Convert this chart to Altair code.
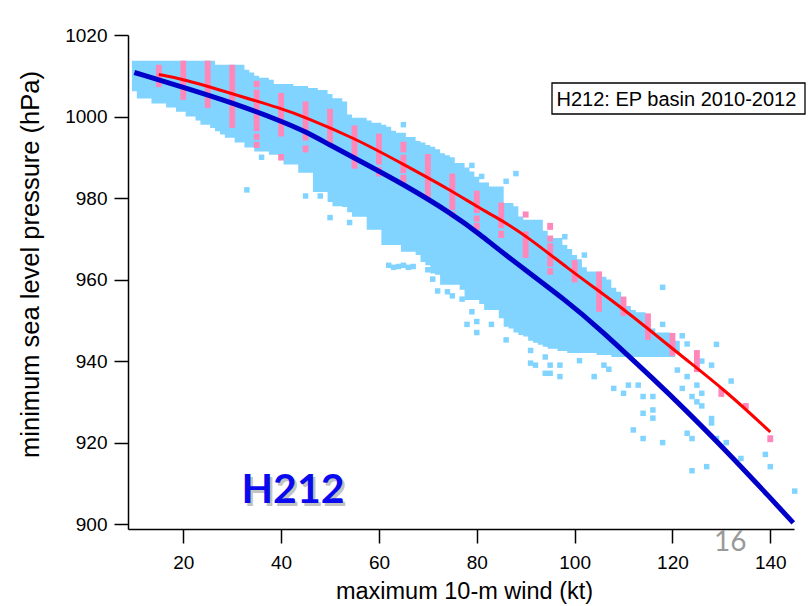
import altair as alt
import pandas as pd

# ---- model (H212) scatter: dense cloud per integer wind (top / bottom pressure) ----
band_wind = list(range(10, 123))
band_top = [
    1013.7, 1013.7, 1013.7, 1013.7, 1013.7, 1013.7, 1013.7, 1013.7, 1013.7, 1013.7,  # 10-19
    1013.7, 1013.7, 1013.7, 1013.7, 1013.7, 1013.7, 1013.7, 1012.7, 1012.7, 1012.7,  # 20-29
    1012.7, 1012.7, 1012.7, 1011.5, 1010.8, 1010.0, 1009.5, 1009.5, 1009.0, 1008.0,  # 30-39
    1008.0, 1008.0, 1008.0, 1007.5, 1007.5, 1007.5, 1007.0, 1007.0, 1006.5, 1006.5,  # 40-49
    1005.5, 1004.5, 1004.5, 1003.7, 1000.5, 999.7, 999.7, 999.7, 999.0, 998.5,       # 50-59
    998.5, 998.0, 997.5, 996.5, 996.0, 996.0, 995.0, 995.0, 994.0, 993.6,            # 60-69
    993.0, 992.6, 992.0, 991.0, 990.5, 990.0, 988.6, 988.6, 987.5, 986.5,            # 70-79
    985.2, 983.8, 983.8, 982.8, 982.8, 982.8, 978.8, 978.8, 978.0, 975.5,            # 80-89
    974.7, 974.7, 974.7, 974.7, 972.0, 970.2, 970.2, 970.2, 968.5, 967.5,            # 90-99
    966.0, 965.0, 963.0, 962.0, 962.0, 961.0, 960.7, 960.0, 958.0, 957.0,            # 100-109
    955.8, 953.5, 952.5, 952.0, 952.0, 950.0, 948.0, 947.0, 947.0, 947.0,            # 110-119
    946.0, 945.0, 944.5,                                                             # 120-122
]
band_bottom = [
    1006.2, 1004.4, 1004.4, 1004.4, 1003.2, 1003.2, 1003.2, 1002.2, 1002.2, 1001.2,  # 10-19
    1001.2, 1000.0, 1000.0, 999.0, 998.0, 998.0, 997.2, 996.4, 995.6, 994.8,         # 20-29
    994.8, 993.6, 993.6, 992.4, 992.4, 991.4, 991.4, 991.4, 990.6, 990.6,            # 30-39
    989.8, 988.2, 988.2, 988.2, 986.2, 986.2, 986.2, 981.5, 981.5, 981.5,            # 40-49
    979.0, 978.0, 978.0, 977.8, 976.5, 975.4, 975.4, 975.4, 972.2, 972.2,            # 50-59
    972.2, 968.5, 968.5, 968.5, 968.5, 966.8, 966.8, 966.8, 966.0, 964.3,            # 60-69
    963.5, 961.5, 961.2, 958.7, 958.7, 958.7, 958.7, 957.5, 955.0, 955.0,            # 70-79
    955.0, 954.0, 952.5, 952.5, 952.5, 950.5, 948.4, 948.0, 947.0, 946.4,            # 80-89
    946.0, 945.0, 944.5, 944.0, 943.5, 943.0, 943.0, 942.5, 942.5, 942.0,            # 90-99
    942.0, 942.0, 942.0, 942.0, 942.0, 941.5, 941.5, 941.5, 941.0, 941.0,            # 100-109
    941.0, 941.0, 941.0, 941.0, 941.0, 941.0, 941.0, 941.0, 941.0, 941.0,            # 110-119
    941.0, 942.0, 942.5,                                                             # 120-122
]

# ---- model scatter: isolated points outside the dense cloud ----
out_wind = [33, 36, 45, 48, 50, 54, 62, 63, 64, 65, 66, 67, 70, 71, 72, 74, 75, 77, 79, 78,
            80, 80, 83, 86, 91, 91, 92, 94, 94, 95, 95, 97, 97, 101, 104, 106, 107, 108, 110, 111,
            113, 114, 116, 116, 116, 114, 112, 114, 118, 118, 118, 122, 123, 129, 132, 128, 126, 125, 126, 124,
            125, 126, 122, 121, 123, 128, 128, 123, 124, 129, 131, 134, 139, 140, 124, 127, 145,
            88, 86, 98, 102, 65, 79, 81]
out_pres = [982.0, 990.0, 980.5, 980.5, 975.2, 974.0, 963.5, 963.0, 963.2, 963.5, 963.0, 963.2, 962.4, 960.1, 957.2, 957.0, 956.0, 955.2, 952.1, 949.0,
            949.7, 947.0, 949.0, 945.2, 942.6, 939.5, 939.0, 941.0, 937.0, 939.0, 937.0, 939.0, 936.2, 940.1, 936.2, 939.0, 938.0, 933.3, 932.1, 934.1,
            934.1, 931.3, 931.3, 928.0, 926.0, 927.2, 923.1, 921.0, 920.0, 958.1, 949.0, 946.2, 944.2, 944.1, 935.1, 939.0, 940.0, 934.1, 932.1, 931.3,
            930.0, 929.0, 933.3, 937.8, 936.2, 925.9, 924.8, 922.3, 921.0, 921.0, 920.0, 916.1, 917.1, 914.1, 913.1, 914.1, 908.1,
            986.0, 984.1, 970.5, 966.0, 998.0, 988.0, 985.3]

# ---- best-track observations: vertical stacks every 5 kt (top / bottom pressure) ----
obs_wind = [15, 20, 25, 30, 35, 35, 35, 35, 40, 40, 45, 45, 50, 55, 60, 60, 65, 65, 65, 70,
            75, 75, 80, 80, 80, 85, 85, 90, 90, 95, 95, 95, 95, 100, 105, 110, 115, 120, 125, 130,
            135, 140]
obs_top = [1012.7, 1013.7, 1013.7, 1012.7, 1008.8, 1006.6, 995.8, 993.8, 1005.8, 990.8, 1003.7, 992.9, 1001.9, 997.8, 995.8, 987.6, 993.8, 990.6, 985.7, 990.8,
           986.0, 976.7, 981.8, 975.7, 973.9, 978.9, 972.0, 976.7, 971.8, 973.9, 970.8, 968.9, 962.8, 964.8, 962.0, 955.8, 951.7, 946.9, 942.7, 933.4,
           929.7, 921.8]
obs_bottom = [1007.2, 1004.1, 1002.1, 997.2, 1007.2, 996.4, 994.3, 992.3, 995.1, 989.2, 994.1, 991.2, 993.1, 987.2, 988.2, 985.3, 991.2, 986.1, 983.3, 979.2,
              977.1, 975.2, 976.3, 974.2, 972.2, 972.6, 970.2, 975.2, 965.3, 972.2, 969.3, 963.2, 961.2, 959.3, 952.1, 951.1, 945.2, 941.3, 937.3, 931.2,
              928.2, 920.1]

# ---- fitted curves ----
red_wind = [15, 20, 30, 40, 45, 55, 65, 75, 80, 85, 90, 99, 105, 110, 117, 122, 131, 140]
red_pres = [1010.3, 1009.2, 1005.6, 1002.0, 999.8, 994.7, 988.3, 981.7, 977.9, 974.6, 970.8, 962.4, 957.2, 952.7, 946.0, 941.1, 932.6, 922.6]

blue_wind = [10, 20, 30, 40, 45, 50, 55, 65, 75, 81, 85, 99, 105, 117, 122, 131, 140.5, 144.7]
blue_pres = [1010.8, 1007.2, 1003.4, 998.9, 996.3, 993.0, 989.8, 983.4, 976.1, 970.8, 966.8, 954.2, 948.0, 934.6, 928.8, 918.0, 905.8, 900.3]

x_ticks = [20, 40, 60, 80, 100, 120, 140]
y_ticks = [900, 920, 940, 960, 980, 1000, 1020]

CYAN = "#80D4FF"
PINK = "#FF88BB"
FONT = "Liberation Sans"

band_df = pd.DataFrame({"w": band_wind, "top": band_top, "bottom": band_bottom})
out_df = pd.DataFrame({"w": out_wind, "p": out_pres})
obs_df = pd.DataFrame({"w": obs_wind, "top": obs_top, "bottom": obs_bottom})
red_df = pd.DataFrame({"w": red_wind, "p": red_pres})
blue_df = pd.DataFrame({"w": blue_wind, "p": blue_pres})

xscale = alt.Scale(domain=[8.7, 144.85], nice=False, zero=False)
yscale = alt.Scale(domain=[898.8, 1020.0], nice=False, zero=False)

xaxis = alt.Axis(values=x_ticks, format="d", title="maximum 10-m wind (kt)", grid=False,
                 tickSize=14, tickWidth=1.5, domainWidth=1.5, domainColor="black", tickColor="black",
                 labelFontSize=19, labelFont=FONT, labelColor="black", labelPadding=10,
                 titleFontSize=23.5, titleFont=FONT, titleFontWeight="normal", titleColor="black",
                 titleX=336, titleY=69, titleBaseline="alphabetic", titleAnchor="middle")
yaxis = alt.Axis(values=y_ticks, format="d", title="minimum sea level pressure (hPa)", grid=False,
                 tickSize=14, tickWidth=1.5, domainWidth=1.5, domainColor="black", tickColor="black",
                 labelFontSize=19, labelFont=FONT, labelColor="black", labelPadding=7,
                 titleFontSize=25.5, titleFont=FONT, titleFontWeight="normal", titleColor="black",
                 titleX=-90, titleY=229, titleBaseline="alphabetic", titleAngle=-90, titleAnchor="middle")

# dense cloud as one stepped area (each integer wind covers w-0.5 .. w+0.5)
band = alt.Chart(band_df).transform_calculate(
    w0="datum.w - 0.5"
).mark_area(color=CYAN, interpolate="step-after", orient="vertical").encode(
    x=alt.X("w0:Q", scale=xscale, axis=xaxis),
    y=alt.Y("top:Q", scale=yscale, axis=yaxis, stack=None),
    y2="bottom:Q",
)

outl = alt.Chart(out_df).mark_square(color=CYAN, opacity=1, fillOpacity=1, size=30).encode(
    x=alt.X("w:Q", scale=xscale),
    y=alt.Y("p:Q", scale=yscale),
)

obs = alt.Chart(obs_df).transform_calculate(
    w0="datum.w - 0.6", w1="datum.w + 0.6"
).mark_rect(color=PINK, opacity=1, fillOpacity=1).encode(
    x=alt.X("w0:Q", scale=xscale),
    x2="w1:Q",
    y=alt.Y("top:Q", scale=yscale),
    y2="bottom:Q",
)

red = alt.Chart(red_df).mark_line(color="#FF0000", strokeWidth=3, interpolate="basis").encode(
    x=alt.X("w:Q", scale=xscale),
    y=alt.Y("p:Q", scale=yscale),
)
blue = alt.Chart(blue_df).mark_line(color="#0000C8", strokeWidth=5, interpolate="basis").encode(
    x=alt.X("w:Q", scale=xscale),
    y=alt.Y("p:Q", scale=yscale),
)

one = pd.DataFrame({"k": [0]})
box = alt.Chart(one).mark_rect(fill="white", stroke="black", strokeWidth=1.3).encode(
    x=alt.value(424), x2=alt.value(677), y=alt.value(48), y2=alt.value(79)
)
box_text = alt.Chart(one).mark_text(
    text="H212: EP basin 2010-2012", font=FONT, fontSize=20, align="left", baseline="alphabetic", color="black"
).encode(x=alt.value(428.5), y=alt.value(70.5))

shadow = alt.Chart(one).mark_text(
    text="H212", font="Lato", fontWeight="bold", fontSize=41, align="center", baseline="alphabetic",
    color="#555555", opacity=0.35
).encode(x=alt.value(167.5), y=alt.value(470.5))
h212 = alt.Chart(one).mark_text(
    text="H212", font="Lato", fontWeight="bold", fontSize=41, align="center", baseline="alphabetic",
    color="#0A0AEE"
).encode(x=alt.value(165), y=alt.value(467.5))

page = alt.Chart(one).mark_text(
    text="16", font="Lato", fontSize=28, align="left", baseline="alphabetic", color="#999999"
).encode(x=alt.value(586), y=alt.value(516))

chart = alt.layer(
    band, outl, obs, red, blue, box, box_text, shadow, h212, page
).properties(
    width=666, height=494,
    autosize=alt.AutoSizeParams(type="none"),
    padding={"left": 128, "top": 35, "right": 17, "bottom": 77},
    background="white",
).configure_view(stroke=None, clip=False)

chart.save("out.html", embed_options={"renderer": "svg", "actions": False})
